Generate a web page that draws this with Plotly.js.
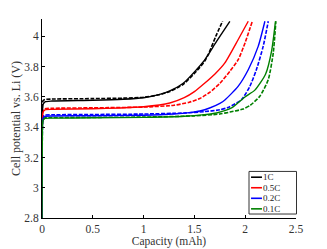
<!DOCTYPE html>
<html><head><meta charset="utf-8">
<script src="https://cdn.plot.ly/plotly-3.0.1.min.js"></script>
<style>html,body{margin:0;padding:0;background:#fff}#c{width:327px;height:249px}</style>
</head><body><div id="c"></div>
<script>
const rateLabels = ["1C", "0.5C", "0.2C", "0.1C"];
const rateColors = ["#000000", "#ff0000", "#0000ff", "#008000"];

// Solid curves
const cap1C = [0,0.003,0.01,0.03,0.1,0.5,0.8,1.0,1.15,1.258,1.39,1.52,1.59,1.636,1.718,1.849];
const v1C   = [2.8,3.45,3.55,3.568,3.573,3.578,3.585,3.595,3.615,3.64,3.69,3.78,3.835,3.88,3.967,4.1];
const cap05C = [0,0.003,0.01,0.03,0.1,0.5,0.77,1.0,1.258,1.4,1.5,1.6,1.7,1.8,1.93,2.03];
const v05C   = [2.8,3.4,3.5,3.515,3.518,3.522,3.527,3.535,3.56,3.595,3.635,3.69,3.75,3.825,3.978,4.1];
const cap02C = [0,0.003,0.01,0.03,0.1,0.5,1.0,1.3,1.45,1.554,1.65,1.751,1.8,1.93,2.03,2.128,2.194];
const v02C   = [2.8,3.35,3.46,3.472,3.474,3.476,3.479,3.487,3.496,3.507,3.527,3.558,3.58,3.67,3.78,3.934,4.1];
const cap01C = [0,0.003,0.01,0.03,0.1,0.5,1.0,1.4,1.6,1.718,1.866,1.997,2.095,2.2,2.26,2.298];
const v01C   = [2.8,3.3,3.445,3.458,3.46,3.462,3.465,3.472,3.483,3.494,3.527,3.6,3.645,3.75,3.905,4.1];

// Dashed curves
const cap1Cd = [0,0.003,0.01,0.03,0.1,0.5,0.8,1.0,1.15,1.258,1.39,1.52,1.6,1.636,1.71,1.777];
const v1Cd   = [2.8,3.5,3.575,3.583,3.586,3.589,3.592,3.598,3.614,3.636,3.683,3.77,3.835,3.879,4.0,4.1];
const cap05Cd = [0,0.003,0.01,0.03,0.1,0.5,1.0,1.3,1.45,1.554,1.65,1.751,1.85,1.931,2.0,2.07];
const v05Cd   = [2.8,3.42,3.51,3.522,3.525,3.528,3.533,3.545,3.565,3.59,3.63,3.69,3.77,3.846,3.96,4.1];
const cap02Cd = [0,0.003,0.01,0.03,0.1,0.5,1.0,1.4,1.6,1.75,1.83,1.964,2.046,2.11,2.177,2.227];
const v02Cd   = [2.8,3.37,3.47,3.48,3.482,3.484,3.487,3.494,3.503,3.515,3.53,3.582,3.67,3.78,3.934,4.1];
const cap01Cd = [0,0.003,0.01,0.03,0.1,0.5,1.0,1.5,1.75,1.85,1.98,2.05,2.144,2.227,2.276,2.302];
const v01Cd   = [2.8,3.32,3.45,3.462,3.464,3.465,3.467,3.475,3.487,3.5,3.52,3.545,3.604,3.714,3.89,4.1];

const xTicks = [0,0.5,1,1.5,2,2.5];
const xTickText = ["0","0.5","1","1.5","2","2.5"];
const yTicks = [2.8,3,3.2,3.4,3.6,3.8,4];
const yTickText = ["2.8","3","3.2","3.4","3.6","3.8","4"];

const solidX = [cap1C, cap05C, cap02C, cap01C];
const solidY = [v1C, v05C, v02C, v01C];
const dashX = [cap1Cd, cap05Cd, cap02Cd, cap01Cd];
const dashY = [v1Cd, v05Cd, v02Cd, v01Cd];

const traces = [];
for (let i = 0; i < 4; i++) {
  traces.push({x: dashX[i], y: dashY[i], mode: "lines", showlegend: false, hoverinfo: "skip",
    line: {color: rateColors[i], width: 1.6, dash: "4px,1.5px", shape: "spline", smoothing: 0.6}});
}
for (let i = 0; i < 4; i++) {
  traces.push({x: solidX[i], y: solidY[i], mode: "lines", name: rateLabels[i], showlegend: false,
    line: {color: rateColors[i], width: 1.4, shape: "spline", smoothing: 0.6}});
}

const fam = "Liberation Serif, Times New Roman, serif";

// Compact legend box (paper coordinates of the plot area)
const legX0 = 0.815, legX1 = 1.002, legY0 = 0.02, legY1 = 0.234;
const legRowY = [0.205, 0.152, 0.099, 0.046];
const legLineX0 = 0.823, legLineX1 = 0.866, legTextX = 0.868;
const shapes = [{type: "rect", xref: "paper", yref: "paper", x0: legX0, x1: legX1, y0: legY0, y1: legY1,
  line: {color: "#333", width: 1}, fillcolor: "#fff", layer: "above"}];
const annotations = [];
for (let i = 0; i < 4; i++) {
  shapes.push({type: "line", xref: "paper", yref: "paper", x0: legLineX0, x1: legLineX1,
    y0: legRowY[i], y1: legRowY[i], line: {color: rateColors[i], width: 1.6}, layer: "above"});
  annotations.push({xref: "paper", yref: "paper", x: legTextX, y: legRowY[i], xanchor: "left", yanchor: "middle",
    text: rateLabels[i], showarrow: false, font: {family: fam, size: 9, color: "#222"}, borderpad: 0});
}

const layout = {
  width: 327, height: 249,
  margin: {l: 42, r: 31, t: 19, b: 31},
  paper_bgcolor: "#fff", plot_bgcolor: "#fff",
  font: {family: fam, size: 11, color: "#333"},
  showlegend: false,
  shapes: shapes,
  annotations: annotations,
  xaxis: {range: [0, 2.5], tickvals: xTicks, ticktext: xTickText, ticks: "inside", ticklen: 3,
    tickcolor: "#000", showline: true, linecolor: "#000", linewidth: 1, showgrid: false, zeroline: false,
    tickfont: {family: fam, size: 11.5, color: "#333"},
    title: {text: "Capacity (mAh)", standoff: 2, font: {family: fam, size: 11.5, color: "#333"}}},
  yaxis: {range: [2.8, 4.115], tickvals: yTicks, ticktext: yTickText, ticks: "inside", ticklen: 3,
    tickcolor: "#000", showline: true, linecolor: "#000", linewidth: 1, showgrid: false, zeroline: false,
    tickfont: {family: fam, size: 11.5, color: "#333"},
    title: {text: "Cell potential vs. Li (V)", standoff: 1, font: {family: fam, size: 12, color: "#333"}}}
};
Plotly.newPlot("c", traces, layout, {displayModeBar: false, staticPlot: true});
</script></body></html>
